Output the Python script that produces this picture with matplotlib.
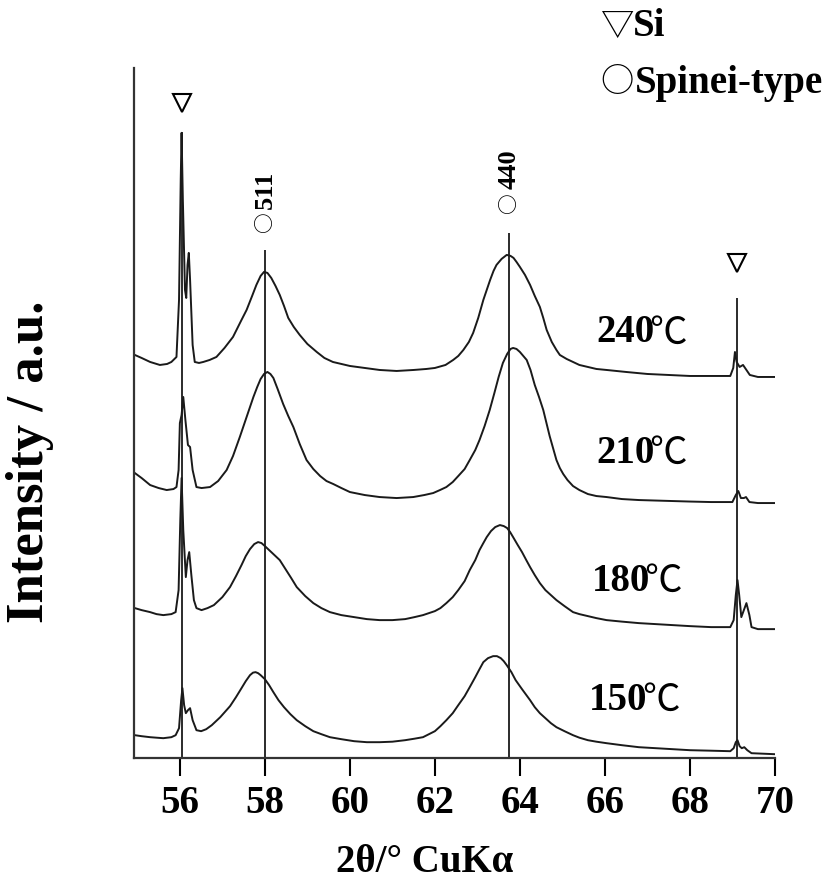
import matplotlib
matplotlib.use("Agg")
import matplotlib.pyplot as plt

plt.rcParams['font.family'] = ['Liberation Serif', 'Noto Sans CJK JP']
plt.rcParams['font.weight'] = 'bold'

# stacked XRD patterns (intensity already offset for each sample)
tt_240 = [54.94, 55.1, 55.3, 55.53, 55.7, 55.8, 55.92, 55.98, 56.02, 56.04, 56.07, 56.12,
          56.15, 56.18, 56.21, 56.24, 56.3, 56.35, 56.45, 56.55, 56.7, 56.86, 57.05, 57.25,
          57.45, 57.57, 57.7, 57.8, 57.9, 57.98, 58.06, 58.15, 58.25, 58.35, 58.45, 58.55,
          58.68, 58.82, 59.0, 59.22, 59.4, 59.6, 59.8, 60.0, 60.35, 60.7, 61.1, 61.5,
          61.8, 62.0, 62.25, 62.43, 62.55, 62.67, 62.8, 62.9, 63.02, 63.14, 63.22, 63.3,
          63.38, 63.45, 63.57, 63.69, 63.78, 63.85, 63.92, 64.0, 64.12, 64.24, 64.35, 64.47,
          64.55, 64.63, 64.75, 64.86, 64.94, 65.1, 65.25, 65.4, 65.6, 65.8, 66.04, 66.5,
          67.0, 67.5, 68.0, 68.95, 69.02, 69.06, 69.1, 69.17, 69.25, 69.33, 69.41, 69.6, 70.0]
int_240 = [403, 400, 396, 393, 394, 396, 401, 458, 578, 625, 558, 468,
           460, 493, 505, 478, 413, 396, 395, 396, 398, 401, 410, 421,
           438, 448, 462, 473, 482, 486, 485, 480, 472, 463, 452, 440,
           431, 423, 414, 406, 400, 396, 394, 392, 390, 388, 387, 388,
           389, 390, 393, 398, 402, 408, 416, 425, 440, 458, 468, 478,
           487, 493, 499, 503, 502, 500, 496, 491, 483, 473, 462, 451,
           440, 428, 416, 408, 403, 399, 396, 393, 391, 389, 388, 386,
           384, 383, 382, 382, 390, 406, 396, 391, 393, 388, 383, 381, 381]

tt_210 = [54.94, 55.1, 55.3, 55.5, 55.69, 55.85, 55.92, 55.97, 56.0, 56.04, 56.08, 56.13,
          56.19, 56.24, 56.3, 56.39, 56.51, 56.71, 56.9, 57.1, 57.25, 57.41, 57.57, 57.73,
          57.82, 57.9, 57.98, 58.06, 58.13, 58.2, 58.3, 58.43, 58.55, 58.67, 58.82, 58.98,
          59.14, 59.3, 59.45, 59.61, 59.8, 60.0, 60.35, 60.7, 61.1, 61.49, 61.75, 61.96,
          62.12, 62.27, 62.42, 62.55, 62.7, 62.82, 62.95, 63.05, 63.17, 63.29, 63.4, 63.5,
          63.6, 63.7, 63.78, 63.84, 63.92, 64.0, 64.08, 64.16, 64.25, 64.35, 64.45, 64.55,
          64.7, 64.86, 64.94, 65.02, 65.12, 65.25, 65.4, 65.6, 65.8, 66.04, 66.4, 66.8,
          67.2, 67.6, 68.0, 68.5, 69.0, 69.08, 69.14, 69.2, 69.27, 69.32, 69.4, 69.6, 70.0]
int_210 = [285, 280, 273, 270, 268, 269, 271, 288, 335, 343, 361, 338,
           313, 311, 288, 271, 270, 271, 277, 288, 302, 321, 341, 361,
           371, 379, 384, 386, 384, 380, 369, 354, 342, 331, 314, 298,
           289, 282, 277, 274, 270, 266, 263, 261, 260, 261, 263, 265,
           268, 271, 276, 282, 289, 298, 308, 318, 332, 348, 365, 381,
           395, 404, 409, 410, 409, 406, 402, 398, 388, 373, 361, 348,
           322, 298, 290, 284, 278, 272, 268, 264, 262, 261, 259, 258,
           257.5, 257, 256.5, 256, 256, 263, 267, 260, 260, 261, 256, 255, 255]

tt_180 = [54.94, 55.1, 55.3, 55.45, 55.61, 55.8, 55.9, 55.97, 56.01, 56.04, 56.08, 56.14,
          56.18, 56.22, 56.27, 56.33, 56.39, 56.51, 56.65, 56.8, 57.0, 57.18, 57.32, 57.45,
          57.55, 57.65, 57.75, 57.84, 57.92, 58.0, 58.1, 58.2, 58.35, 58.5, 58.62, 58.75,
          58.95, 59.14, 59.33, 59.53, 59.8, 60.1, 60.4, 60.7, 61.0, 61.3, 61.52, 61.72,
          61.86, 62.0, 62.13, 62.27, 62.42, 62.55, 62.7, 62.82, 62.95, 63.05, 63.14, 63.22,
          63.32, 63.42, 63.53, 63.62, 63.7, 63.77, 63.84, 63.95, 64.05, 64.15, 64.24, 64.35,
          64.47, 64.6, 64.73, 64.86, 65.05, 65.25, 65.4, 65.6, 65.8, 66.04, 66.4, 66.8,
          67.2, 67.6, 68.0, 68.5, 68.95, 69.03, 69.08, 69.12, 69.16, 69.21, 69.27, 69.33,
          69.4, 69.45, 69.6, 70.0]
int_180 = [150, 148, 146, 144, 143, 144, 146, 168, 238, 280, 228, 181,
           198, 206, 183, 158, 150, 148, 150, 153, 161, 171, 182, 193,
           202, 209, 214, 216, 215, 212, 208, 204, 198, 188, 180, 171,
           162, 155, 150, 146, 143, 141, 139, 138, 138, 139, 141, 143,
           145, 147, 150, 155, 161, 168, 177, 188, 198, 208, 215, 221,
           227, 231, 233, 232, 230, 226, 221, 213, 206, 198, 191, 183,
           175, 168, 163, 158, 152, 146, 144, 142, 140, 138, 136.5, 135,
           134, 133, 132, 131, 131, 138, 163, 178, 163, 141, 148, 155,
           143, 131, 129, 129]

tt_150 = [54.94, 55.1, 55.3, 55.45, 55.61, 55.8, 55.9, 55.98, 56.03, 56.06, 56.1, 56.14,
          56.19, 56.24, 56.3, 56.39, 56.5, 56.62, 56.75, 56.95, 57.18, 57.32, 57.45, 57.55,
          57.65, 57.72, 57.78, 57.84, 57.9, 58.0, 58.1, 58.2, 58.32, 58.45, 58.6, 58.75,
          58.95, 59.14, 59.33, 59.53, 59.8, 60.1, 60.4, 60.7, 61.0, 61.3, 61.52, 61.72,
          61.86, 62.0, 62.13, 62.27, 62.42, 62.55, 62.7, 62.82, 62.95, 63.05, 63.14, 63.25,
          63.37, 63.46, 63.55, 63.62, 63.69, 63.8, 63.9, 64.05, 64.24, 64.35, 64.47, 64.6,
          64.73, 64.86, 65.05, 65.25, 65.4, 65.6, 65.8, 66.04, 66.4, 66.8, 67.2, 67.6,
          68.0, 68.5, 68.95, 69.03, 69.08, 69.12, 69.17, 69.22, 69.28, 69.35, 69.45, 70.0]
int_150 = [23, 22, 21, 20.5, 20, 21, 23, 30, 58, 70, 53, 45,
           48, 50, 38, 28, 27, 29, 33, 41, 52, 61, 70, 77,
           83, 85.5, 86, 85, 83, 79, 73, 66, 58, 51, 44, 38,
           32, 27, 24, 21, 19, 17, 16, 16, 16.5, 18, 19.5, 21,
           24, 27, 32, 38, 45, 53, 62, 71, 81, 89, 96, 100,
           102, 102, 100, 97, 93, 86, 78, 69, 58, 51, 45, 40,
           35, 31, 27, 23, 20.5, 18, 16.5, 15, 13, 11, 10, 9,
           8, 7.5, 7, 10, 16, 18, 12, 10, 11, 8, 5, 4]

samples = ["240", "210", "180", "150"]
label_x = [67.18, 67.18, 67.06, 67.01]
label_y = [425, 305, 177, 58]

# reference peak positions and marker line heights
si_peaks = [56.04, 69.1]
si_line_top = [626, 460]
si_mark_y = [655, 495]
spinel_peaks = [58.0, 63.75]
spinel_line_top = [508, 525]
spinel_hkl = ["511", "440"]
spinel_circle_y = [526, 545]
spinel_text_y = [549, 569]

ink = '#1a1a1a'
cjk = 'Noto Sans CJK JP'

fig = plt.figure(figsize=(8.27, 8.92), dpi=100)
ax = fig.add_axes([0.162, 0.150, 0.775, 0.774])

for tt, inten in [(tt_240, int_240), (tt_210, int_210), (tt_180, int_180), (tt_150, int_150)]:
    ax.plot(tt, inten, color=ink, lw=1.4)

for lab, lx, ly in zip(samples, label_x, label_y):
    ax.text(lx, ly, lab, fontsize=28, ha='right', va='center')
    # the CJK degree-Celsius glyph has a wide left bearing, pull it in a little
    ax.text(lx - 0.14, ly, "℃", fontsize=27, ha='left', va='center', family=cjk,
            fontweight='normal')

ax.vlines(si_peaks, 0, si_line_top, color=ink, lw=1.3)
ax.vlines(spinel_peaks, 0, spinel_line_top, color=ink, lw=1.3)
ax.plot(si_peaks, si_mark_y, ls='none', marker='v', ms=13, mfc='white', mec='black', mew=1.5)
for px, cy, ty, hkl in zip(spinel_peaks, spinel_circle_y, spinel_text_y, spinel_hkl):
    ax.text(px, cy, "○", rotation=90, ha='center', va='bottom', fontsize=15,
            family=cjk, fontweight='normal')
    ax.text(px, ty, hkl, rotation=90, ha='center', va='bottom', fontsize=19)

ax.set_xlim(54.92, 70.0)
ax.set_ylim(0, 690)
ax.set_xticks([56, 58, 60, 62, 64, 66, 68, 70])
ax.set_yticks([])
ax.tick_params(axis='x', direction='out', length=13, width=1.5, pad=6, labelsize=28)
for s in ['top', 'right']:
    ax.spines[s].set_visible(False)
for s in ['left', 'bottom']:
    ax.spines[s].set_linewidth(1.6)
    ax.spines[s].set_color('#333333')

fig.text(425 / 827, 1 - 862 / 892, "2θ/° CuKα", fontsize=28, ha='center', va='center')
fig.text(0.036, 0.482, "Intensity / a.u.", rotation=90, ha='center', va='center', fontsize=38)

# marker key in the top right corner
fig.text(601 / 827, 1 - 26 / 892, "▽", fontsize=24, ha='left', va='center', family=cjk,
         fontweight='normal')
fig.text(633 / 827, 1 - 26 / 892, "Si", fontsize=28, ha='left', va='center')
fig.text(600 / 827, 1 - 83 / 892, "○", fontsize=24, ha='left', va='center', family=cjk,
         fontweight='normal')
fig.text(635 / 827, 1 - 83 / 892, "Spinei-type", fontsize=28, ha='left', va='center')

fig.savefig("out.png", dpi=100)
